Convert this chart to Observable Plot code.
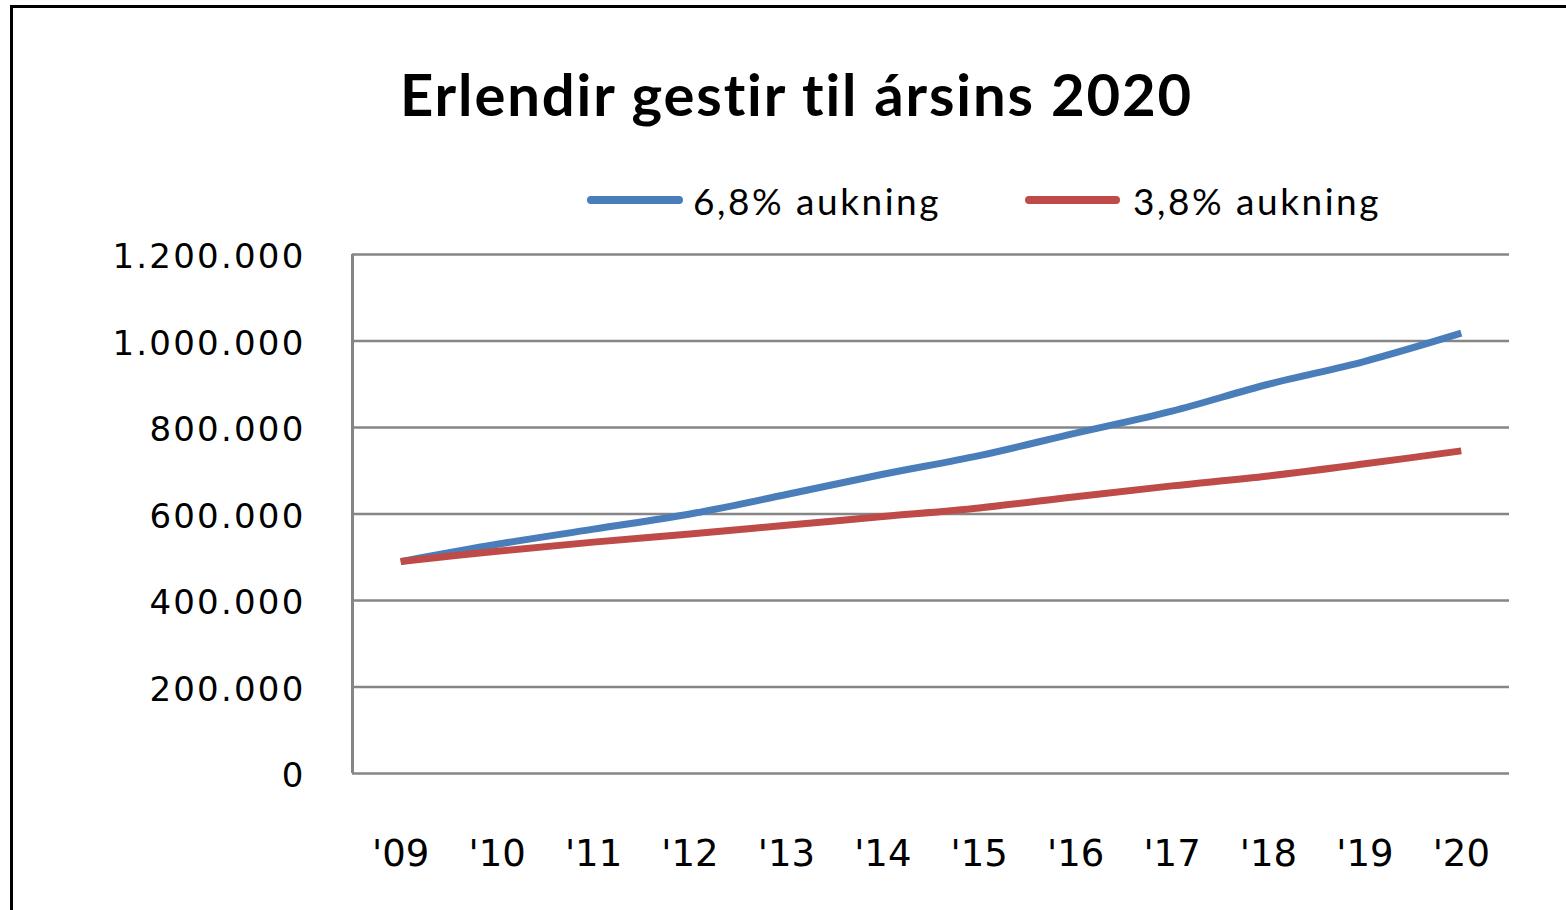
<!DOCTYPE html>
<html>
<head>
<meta charset="utf-8">
<script src="https://cdn.jsdelivr.net/npm/d3@7"></script>
<script src="https://cdn.jsdelivr.net/npm/@observablehq/plot@0.6"></script>
<style>
  html, body { margin: 0; padding: 0; background: #fff; overflow: hidden; }
  #page { position: relative; width: 1566px; height: 910px; overflow: hidden; background: #fff; }
  #frame { position: absolute; left: 10px; top: 5px; width: 1600px; height: 1000px; border: 3px solid #000; box-sizing: border-box; }
  .t { position: absolute; white-space: nowrap; color: #000; line-height: 1; }
  #title { font-family: Lato, "Open Sans", sans-serif; font-weight: 700; font-size: 58px; }
  .leg { font-family: Lato, "Open Sans", sans-serif; font-size: 37px; }
  .sw { position: absolute; height: 8px; border-radius: 4px; }
  #chart { position: absolute; left: 0; top: 230px; }
  #chart svg { overflow: visible; }
</style>
</head>
<body>
<div id="page">
  <div id="frame"></div>
  <div id="title" class="t"></div>
  <div id="sw0" class="sw"></div>
  <div id="lg0" class="t leg"></div>
  <div id="sw1" class="sw"></div>
  <div id="lg1" class="t leg"></div>
  <div id="chart"></div>
</div>
<script>
// ---- data ----
const titleText = "Erlendir gestir til ársins 2020";
const years = ["'09", "'10", "'11", "'12", "'13", "'14", "'15", "'16", "'17", "'18", "'19", "'20"];
const seriesNames = ["6,8% aukning", "3,8% aukning"];
const seriesColors = ["#4A7EBB", "#BE4B48"];
const blueValues = [490000, 530000, 565000, 600000, 645000, 692000, 735000, 787000, 838000, 900000, 953000, 1018000];
const redValues = [490000, 514000, 535000, 554000, 574000, 594000, 614000, 640000, 665000, 688000, 716000, 746000];
const yTicks = [0, 200000, 400000, 600000, 800000, 1000000, 1200000];

const rows = [];
years.forEach((y, i) => {
  rows.push({i, year: y, value: blueValues[i], series: seriesNames[0]});
});
years.forEach((y, i) => {
  rows.push({i, year: y, value: redValues[i], series: seriesNames[1]});
});

const locale = d3.formatLocale({decimal: ",", thousands: ".", grouping: [3], currency: ["", ""]});
const fmt = locale.format(",");

// ---- text helpers ----
function place(el, text, left, top, targetWidth) {
  el.textContent = text;
  el.style.left = left + "px";
  el.style.top = top + "px";
  if (targetWidth) {
    const w = el.getBoundingClientRect().width;
    const n = text.length;
    el.style.letterSpacing = ((targetWidth - w) / n) + "px";
  }
}

const titleEl = document.getElementById("title");
place(titleEl, titleText, 400, 65, 795);

const legLefts = [693, 1133];
const swLefts = [587, 1025];
const swWidths = [96, 95];
seriesNames.forEach((name, k) => {
  const sw = document.getElementById("sw" + k);
  sw.style.left = swLefts[k] + "px";
  sw.style.width = swWidths[k] + "px";
  sw.style.top = "196px";
  sw.style.background = seriesColors[k];
  const lg = document.getElementById("lg" + k);
  place(lg, name, legLefts[k], 182, 248);
});

// ---- chart ----
const chart = Plot.plot({
  width: 1566,
  height: 680,
  marginLeft: 352,
  marginRight: 57,
  marginTop: 24,
  marginBottom: 137,
  style: {fontFamily: "DejaVu Sans", background: "transparent", color: "#000"},
  x: {type: "linear", domain: [-0.5, years.length - 0.5], label: null},
  y: {domain: [0, 1200000], label: null},
  color: {domain: seriesNames, range: seriesColors},
  marks: [
    Plot.ruleY(yTicks, {stroke: "#868686", strokeWidth: 2.6, strokeOpacity: 1}),
    Plot.ruleX([-0.5], {stroke: "#868686", strokeWidth: 3, strokeOpacity: 1}),
    Plot.axisY({ticks: yTicks, tickSize: 0, tickPadding: 47, tickFormat: fmt, fontSize: 34, label: null, fill: "#000", dy: 3}),
    Plot.axisX({ticks: d3.range(years.length), tickSize: 0, tickPadding: 66, tickFormat: i => years[i], fontSize: 37, label: null, fill: "#000"}),
    Plot.line(rows, {x: "i", y: "value", z: "series", stroke: "series", strokeWidth: 7, curve: "catmull-rom", strokeLinecap: "butt", strokeLinejoin: "round"})
  ]
});
document.getElementById("chart").appendChild(chart);

// letter spacing for y tick labels to match reference width (~193px for 1.200.000)
const ylabels = chart.querySelectorAll('g[aria-label="y-axis tick label"] text');
let maxLen = 0, maxEl = null;
ylabels.forEach(t => { const l = t.getComputedTextLength(); if (l > maxLen) { maxLen = l; maxEl = t; } });
if (maxEl) {
  const ls = (193 - maxLen) / maxEl.textContent.length;
  ylabels.forEach(t => { t.style.letterSpacing = ls + "px"; });
}
</script>
</body>
</html>
